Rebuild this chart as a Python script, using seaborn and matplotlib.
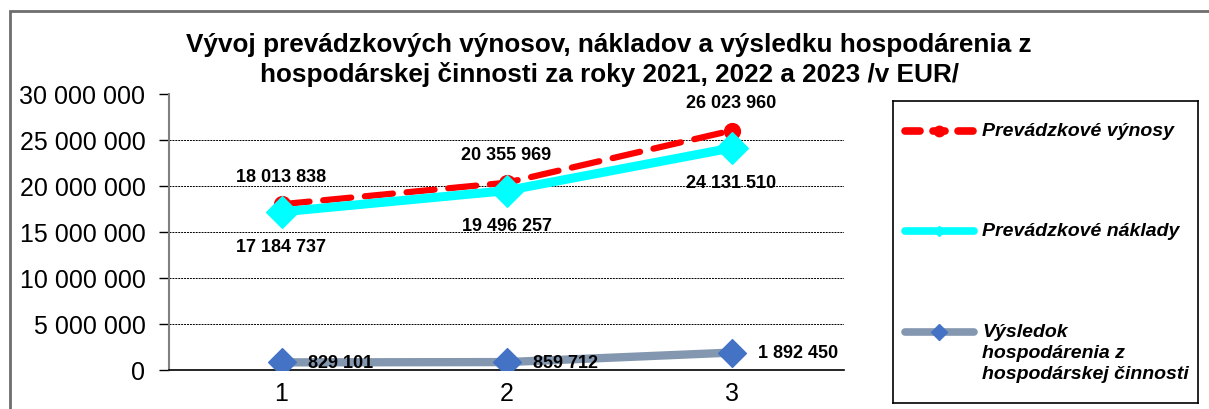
import numpy as np
import pandas as pd
import matplotlib
matplotlib.use("Agg")
import matplotlib.pyplot as plt
import seaborn as sns
from matplotlib.lines import Line2D
from matplotlib.patches import Rectangle
from matplotlib.ticker import FuncFormatter

# data
roky = [1, 2, 3]
vynosy = [18013838, 20355969, 26023960]
naklady = [17184737, 19496257, 24131510]
vysledok = [829101, 859712, 1892450]
nazvy = ["Prevádzkové výnosy", "Prevádzkové náklady",
         "Výsledok hospodárenia z hospodárskej činnosti"]
nazvy_legenda = ["Prevádzkové výnosy", "Prevádzkové náklady",
                 "Výsledok\nhospodárenia z\nhospodárskej činnosti"]
nadpis = ("Vývoj prevádzkových výnosov, nákladov a výsledku hospodárenia z\n"
          "hospodárskej činnosti za roky 2021, 2022 a 2023 /v EUR/")

df = pd.DataFrame({
    "rok": roky * 3,
    "hodnota": vynosy + naklady + vysledok,
    "rad": [nazvy[0]] * 3 + [nazvy[1]] * 3 + [nazvy[2]] * 3,
})


def fmt(v):
    return f"{int(v):,}".replace(",", " ")


def main():
    sns.set_style("white")
    plt.rcParams["font.family"] = ["Liberation Sans", "DejaVu Sans"]
    plt.rcParams["text.color"] = "black"
    plt.rcParams["xtick.color"] = "black"
    plt.rcParams["ytick.color"] = "black"

    fig = plt.figure(figsize=(12.09, 4.10), dpi=100)
    W, H = 1209, 410
    ax = fig.add_axes([169 / W, 1 - 371 / H, (844 - 169) / W, (371 - 95) / H])

    # outer frame
    fig.add_artist(Rectangle((10 / W, -0.1), 1.2, 1 - 12 / H + 0.1,
                             transform=fig.transFigure, fill=False,
                             edgecolor="#6e6e6e", linewidth=2))

    farby = {nazvy[0]: "#ff0000", nazvy[1]: "#00ffff", nazvy[2]: "#8497b0"}
    sirky = [4.5, 6.5, 6.0]
    ciary = [(0, (4.5, 2.2)), "-", "-"]

    for i, n in enumerate(nazvy):
        sub = df[df["rad"] == n]
        sns.lineplot(data=sub, x="rok", y="hodnota", ax=ax, color=farby[n],
                     linewidth=sirky[i], linestyle=ciary[i],
                     legend=False, zorder=3 + i)
    ax.lines[0].set_dash_capstyle("round")

    # markers
    ax.scatter(roky, vynosy, marker="o", s=130, color="#ff0000", zorder=3)
    ax.scatter(roky, naklady, marker="D", s=260, color="#00ffff", zorder=4)
    ax.scatter(roky, vysledok, marker="D", s=200, color="#4472c4", zorder=6)

    # data labels
    lab = dict(fontsize=13, fontweight="bold", va="center", zorder=8,
               textcoords="offset points")
    for x, v in zip(roky, vynosy):
        ax.annotate(fmt(v), (x, v), xytext=(0, 20), ha="center", **lab)
    for x, v in zip(roky, naklady):
        ax.annotate(fmt(v), (x, v), xytext=(0, -25), ha="center", **lab)
    for x, v in zip(roky, vysledok):
        ax.annotate(fmt(v), (x, v), xytext=(19, 0), ha="left", **lab)

    ax.set_xlim(0.5, 3.5)
    ax.set_ylim(0, 30000000)
    ax.set_yticks(np.arange(0, 30000001, 5000000))
    ax.yaxis.set_major_formatter(FuncFormatter(lambda v, p: fmt(v)))
    ax.set_xticks(roky)
    ax.set_xticks([0.5, 1.5, 2.5, 3.5], minor=True)
    ax.tick_params(axis="x", which="major", length=0, labelsize=18, pad=8)
    ax.tick_params(axis="x", which="minor", length=7, width=1, color="black",
                   direction="out")
    ax.tick_params(axis="y", length=7, width=1, color="black", labelsize=18,
                   direction="out", pad=10, left=True)
    ax.set_xlabel("")
    ax.set_ylabel("")
    for yv in range(5000000, 25000001, 5000000):
        ax.axhline(yv, color="black", linestyle=(0, (2, 1)), linewidth=0.7, zorder=1)
    ax.spines["top"].set_visible(False)
    ax.spines["right"].set_visible(False)
    ax.spines["left"].set_color("#808080")
    ax.spines["left"].set_linewidth(1.5)
    ax.spines["bottom"].set_color("black")
    ax.spines["bottom"].set_linewidth(1.2)
    ax.patch.set_alpha(0)

    fig.text(609 / W, 1 - 60 / H, nadpis, ha="center", va="center",
             fontsize=18.8, fontweight="bold", linespacing=1.22)

    # legend box
    lax = fig.add_axes([893 / W, 1 - 404 / H, (1198 - 893) / W, (404 - 102) / H])
    lax.set_xlim(893, 1198)
    lax.set_ylim(404, 102)
    lax.set_xticks([])
    lax.set_yticks([])
    for s in lax.spines.values():
        s.set_color("black")
        s.set_linewidth(1.2)
    ys = [132, 232, 333]
    for a, b in [(905, 920), (958, 973)]:
        lax.add_line(Line2D([a, b], [ys[0]] * 2, color="#ff0000", lw=5.5,
                            solid_capstyle="round"))
    lax.add_line(Line2D([933, 945], [ys[0]] * 2, color="#ff0000", lw=5.5,
                        solid_capstyle="round"))
    lax.plot([939], [ys[0]], marker="o", ms=7.5, color="#ff0000")
    lax.add_line(Line2D([905, 974], [ys[1]] * 2, color="#00ffff", lw=5.5,
                        solid_capstyle="round"))
    lax.plot([939], [ys[1]], marker="D", ms=5, color="#00ffff")
    lax.add_line(Line2D([905, 974], [ys[2]] * 2, color="#8497b0", lw=5.5,
                        solid_capstyle="round"))
    lax.plot([939], [ys[2]], marker="D", ms=8, color="#4472c4")
    for y, t in zip(ys, nazvy_legenda):
        lax.text(982, y - 9, t, ha="left", va="top", fontsize=14,
                 fontweight="bold", fontstyle="italic", linespacing=1.3)

    fig.savefig("out.png", dpi=100)


if __name__ == "__main__":
    main()
